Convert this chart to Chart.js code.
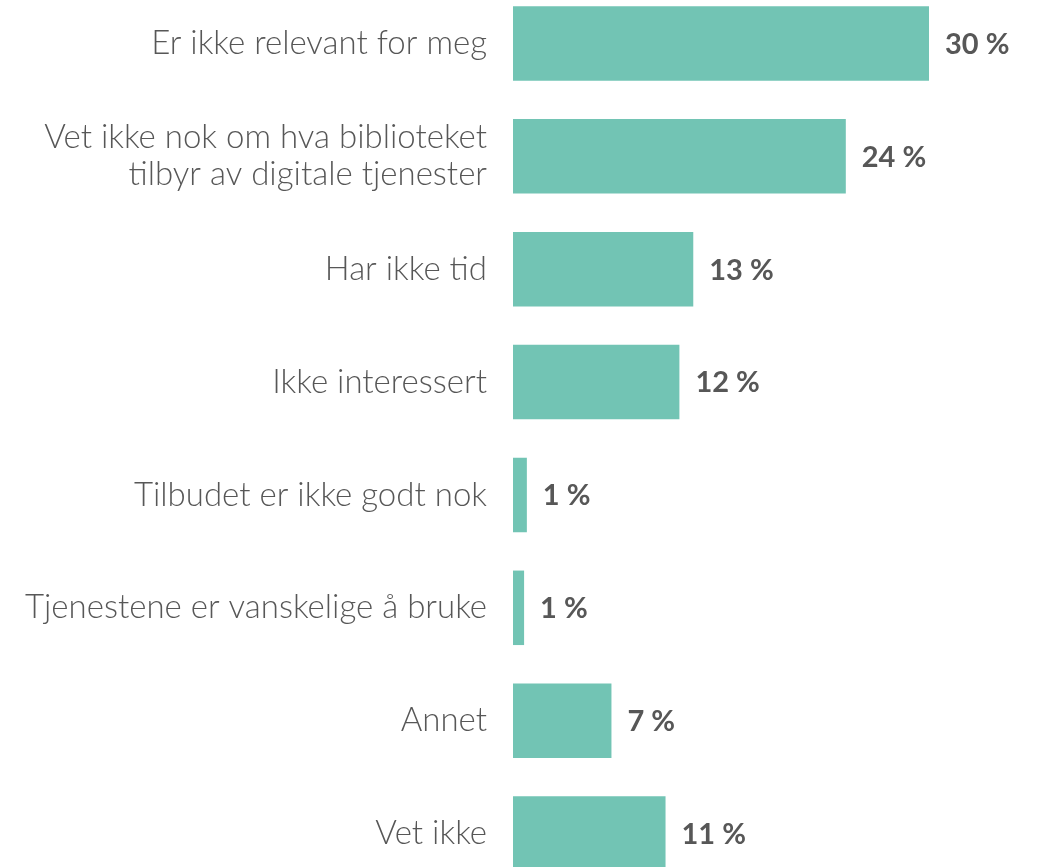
<!DOCTYPE html>
<html>
<head>
<meta charset="utf-8">
<script src="https://cdn.jsdelivr.net/npm/chart.js@4/dist/chart.umd.min.js"></script>
<style>
  html, body { margin: 0; padding: 0; background: #ffffff; overflow: hidden; }
  body { width: 1038px; height: 867px; position: relative; }
  #wrap { position: absolute; left: 0; top: -13px; width: 1038px; height: 903px; }
</style>
</head>
<body>
<div id="wrap"><canvas id="c"></canvas></div>
<script>
const categories = [
  'Er ikke relevant for meg',
  ['Vet ikke nok om hva biblioteket', 'tilbyr av digitale tjenester'],
  'Har ikke tid',
  'Ikke interessert',
  'Tilbudet er ikke godt nok',
  'Tjenestene er vanskelige å bruke',
  'Annet',
  'Vet ikke'
];
const values = [30, 24, 13, 12, 1, 0.8, 7.1, 11];
const valueLabels = ['30 %', '24 %', '13 %', '12 %', '1 %', '1 %', '7 %', '11 %'];

const barColor = '#72c4b4';
const textColor = '#575757';
const FONT = 'Lato, "Noto Sans", sans-serif';

const valueLabelPlugin = {
  id: 'valueLabels',
  afterDatasetsDraw(chart) {
    const ctx = chart.ctx;
    const meta = chart.getDatasetMeta(0);
    ctx.save();
    ctx.font = 'bold 29px ' + FONT;
    ctx.fillStyle = textColor;
    ctx.textAlign = 'left';
    ctx.textBaseline = 'middle';
    meta.data.forEach((bar, i) => {
      ctx.fillText(valueLabels[i], bar.x + 16, bar.y + 1);
    });
    ctx.restore();
  }
};

new Chart(document.getElementById('c'), {
  type: 'bar',
  data: {
    labels: categories,
    datasets: [{
      data: values,
      backgroundColor: barColor,
      borderWidth: 0,
      barPercentage: 0.66,
      categoryPercentage: 1.0
    }]
  },
  options: {
    indexAxis: 'y',
    responsive: true,
    maintainAspectRatio: false,
    animation: false,
    layout: { padding: 0 },
    plugins: {
      legend: { display: false },
      tooltip: { enabled: false }
    },
    scales: {
      x: {
        display: false,
        min: 0,
        max: 37.86
      },
      y: {
        grid: { display: false, drawTicks: false },
        border: { display: false },
        afterFit(scale) {
          scale.width = 513;
          scale.paddingTop = 0;
          scale.paddingBottom = 0;
        },
        ticks: {
          padding: 26,
          color: textColor,
          font: { family: FONT, size: 33, weight: 300, lineHeight: 1.12 },
          autoSkip: false
        }
      }
    }
  },
  plugins: [valueLabelPlugin]
});
</script>
</body>
</html>
